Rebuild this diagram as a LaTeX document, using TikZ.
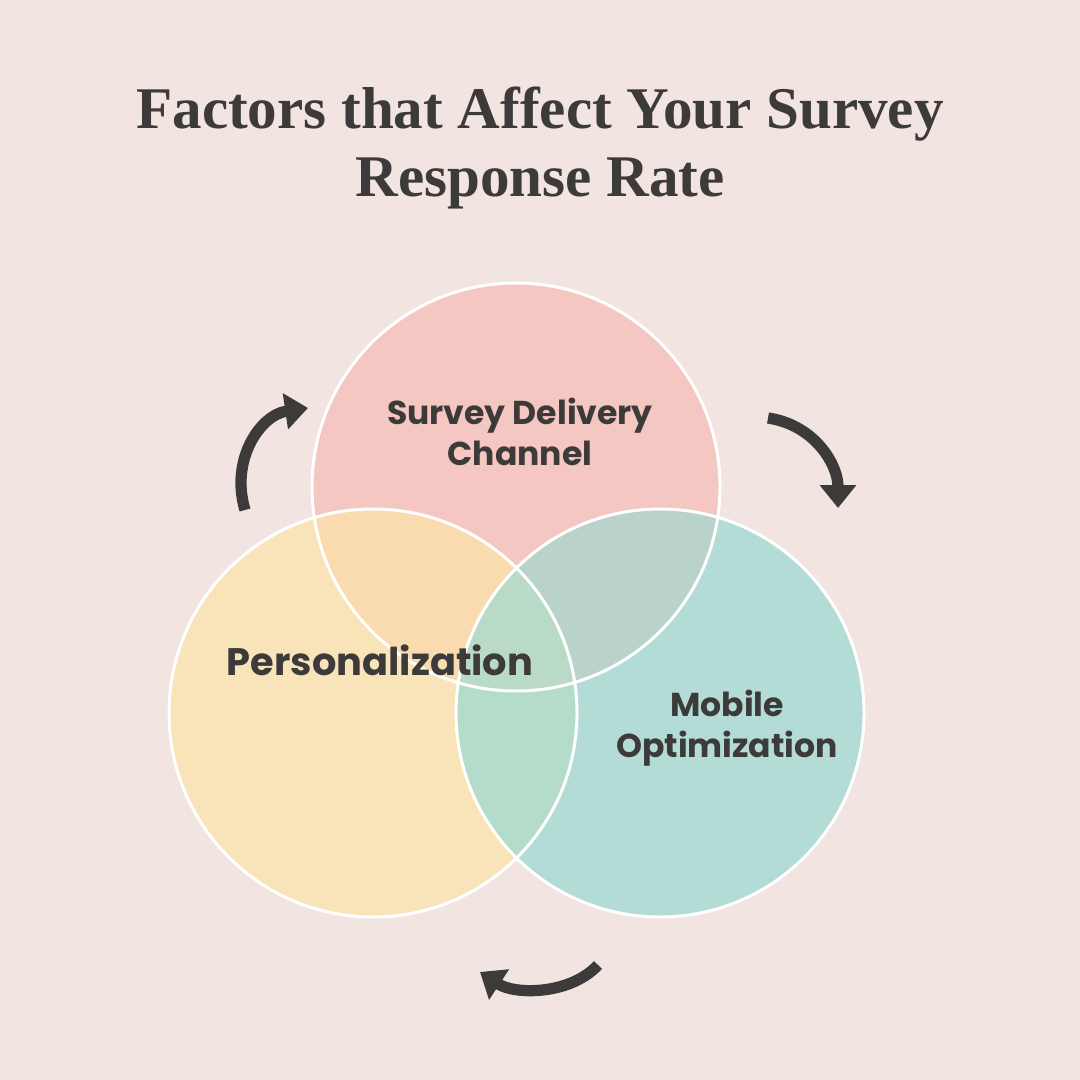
\documentclass[tikz,border=0pt]{standalone}
\usepackage{fontspec}
\setmainfont{Poppins}
\newfontfamily\titlefont{Liberation Serif}
\usetikzlibrary{arrows.meta}
\definecolor{bg}{HTML}{F2E4E0}
\definecolor{ctop}{HTML}{F4C7C3}
\definecolor{cleft}{HTML}{F9E4BA}
\definecolor{cright}{HTML}{B2DCD5}
\definecolor{ctl}{HTML}{FADBB0}
\definecolor{ctr}{HTML}{B9D2CA}
\definecolor{clr}{HTML}{B5DCCA}
\definecolor{cmid}{HTML}{B8DAC6}
\definecolor{ink}{HTML}{3D3A3A}
\tikzset{lbl/.style={font=\bfseries\fontsize{9.4}{11.6}\selectfont, text=ink, align=center},
 circ/.style={draw=white, line width=0.85pt},
 curly/.style={draw=ink, line width=3.2pt, -{Triangle[length=6.5pt,width=10pt]}}}
\begin{document}
\begin{tikzpicture}[x=0.01cm,y=-0.01cm]
\fill[bg] (0,0) rectangle (1080,1080);
\node[font=\titlefont\bfseries\fontsize{16.8}{19.5}\selectfont, text=ink, align=center] (title) at (540,148) {Factors that Affect Your Survey\\Response Rate};
\coordinate (T) at (516,487);
\coordinate (L) at (373,713);
\coordinate (R) at (660,713);
\def\rr{204}
\fill[ctop] (T) circle (\rr);
\fill[cleft] (L) circle (\rr);
\fill[cright] (R) circle (\rr);
\begin{scope}\clip (T) circle (\rr); \fill[ctl] (L) circle (\rr); \fill[ctr] (R) circle (\rr);\end{scope}
\begin{scope}\clip (L) circle (\rr); \fill[clr] (R) circle (\rr);\end{scope}
\begin{scope}\clip (T) circle (\rr); \clip (L) circle (\rr); \fill[cmid] (R) circle (\rr);\end{scope}
\draw[circ] (T) circle (\rr);
\draw[circ] (L) circle (\rr);
\draw[circ] (R) circle (\rr);
\node[lbl] (t1) at (520,432) {Survey Delivery\\Channel};
\node[lbl,font=\bfseries\fontsize{10.9}{13}\selectfont] (t2) at (380,660) {Personalization};
\node[lbl] (t3) at (727,728) {Mobile\\Optimization};
\coordinate (a1s) at (245,510); \coordinate (a1e) at (308,408);
\coordinate (a2s) at (768,418); \coordinate (a2e) at (838,508);
\coordinate (a3s) at (598,965); \coordinate (a3e) at (480,972);
\draw[curly] (a1s) .. controls (230,460) and (260,415) .. (a1e);
\draw[curly] (a2s) .. controls (815,425) and (838,465) .. (a2e);
\draw[curly] (a3s) .. controls (570,995) and (515,995) .. (a3e);
\end{tikzpicture}
\end{document}
